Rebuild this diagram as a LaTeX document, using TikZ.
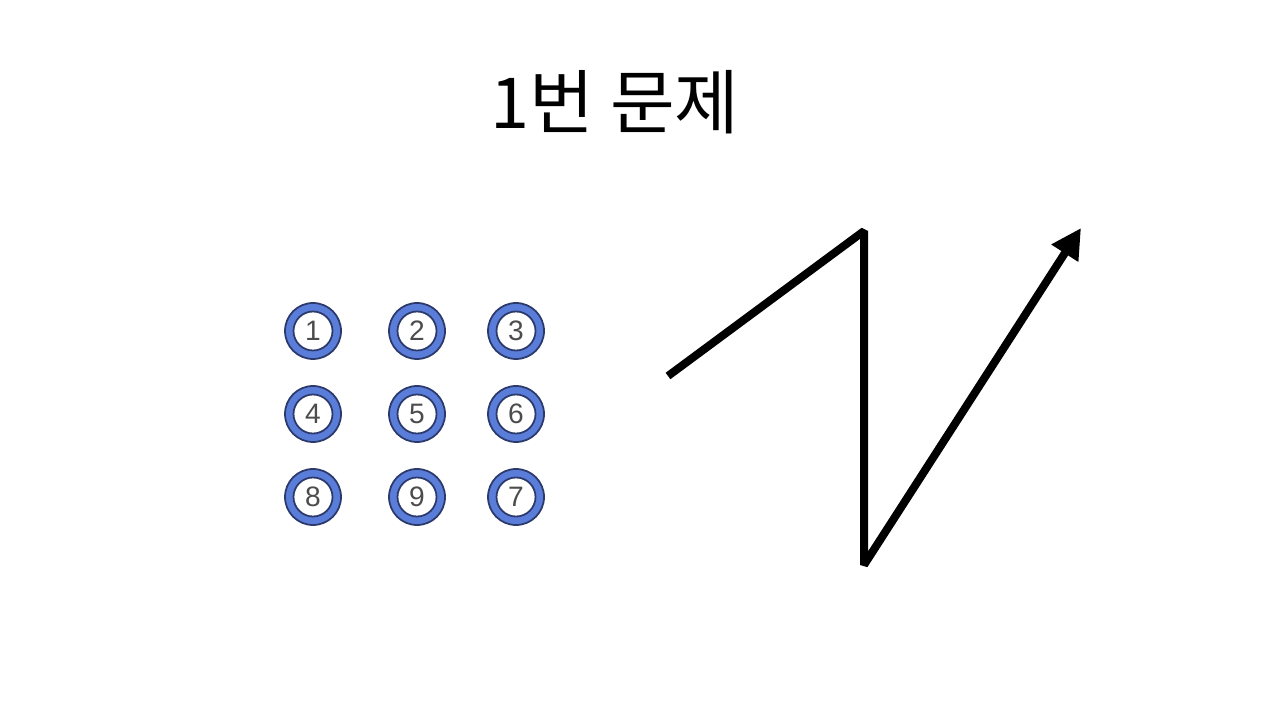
\documentclass[tikz,border=0pt]{standalone}
\usepackage{fontspec}
\setmainfont{Liberation Sans}
\newfontfamily\krfont{Noto Sans CJK KR}
\usetikzlibrary{arrows.meta}
\definecolor{ringblue}{HTML}{5A7DDA}
\definecolor{ringline}{HTML}{2B3A6B}
\tikzset{
  ring/.style={circle, draw=ringline, fill=ringblue, line width=0.5pt,
    minimum size=0.56cm, inner sep=0pt, text=black!70, font=\fontsize{8}{8}\selectfont,
    path picture={\draw[ringline, fill=white, line width=0.5pt]
      (path picture bounding box.center) circle (0.195);}},
  zig/.style={line width=0.08cm, line join=bevel}
}
\begin{document}
\begin{tikzpicture}
   \useasboundingbox (0,0) rectangle (12.8,-7.2);
   \node (title) at (6.15,-1.02) {\krfont\fontsize{20}{20}\selectfont 1번 문제};
   % keypad
   \node[ring] (k1) at (3.13,-3.31) {1};
   \node[ring] (k2) at (4.17,-3.31) {2};
   \node[ring] (k3) at (5.16,-3.31) {3};
   \node[ring] (k4) at (3.13,-4.14) {4};
   \node[ring] (k5) at (4.17,-4.14) {5};
   \node[ring] (k6) at (5.16,-4.14) {6};
   \node[ring] (k8) at (3.13,-4.97) {8};
   \node[ring] (k9) at (4.17,-4.97) {9};
   \node[ring] (k7) at (5.16,-4.97) {7};
   % stroke
   \coordinate (start) at (6.68,-3.76);
   \coordinate (top) at (8.64,-2.31);
   \coordinate (bottom) at (8.64,-5.65);
   \coordinate (tip) at (10.81,-2.28);
   \draw[zig, -{Triangle[length=0.3cm,width=0.3cm]}]
   (start) -- (top) -- (bottom) -- (tip);
 \end{tikzpicture}
\end{document}
